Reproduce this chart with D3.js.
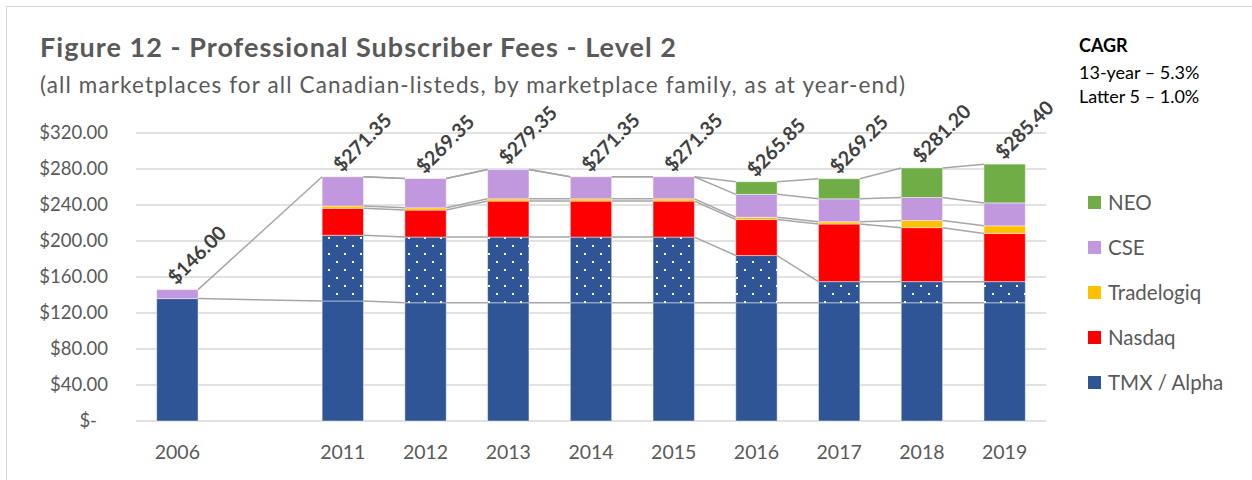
<!DOCTYPE html>
<html>
<head>
<meta charset="utf-8">
<script src="https://cdn.jsdelivr.net/npm/d3@7"></script>
<style>
  body { margin: 0; background: #fff; }
  svg { display: block; font-family: Lato, "Open Sans", sans-serif; }
</style>
</head>
<body>
<script>
const WIDTH = 1252;
const HEIGHT = 480;
const MARGIN = { left: 136, right: 206, top: 133, bottom: 59 };

// categories ("" is the empty slot between 2006 and 2011)
const years = ["2006", "", "2011", "2012", "2013", "2014", "2015", "2016", "2017", "2018", "2019"];

// series values per year (null = not present that year)
const tmx        = [136,   null, 133.35, 131.35, 131.35, 131.35, 131.35, 131.35, 131.35, 131.35, 131.35];
const alpha      = [null,  null, 73,     73,     73,     73,     73,     52.5,   23.5,   23.5,   23.5];
const nasdaq     = [null,  null, 30,     30,     40,     40,     40,     40,     64,     60,     53.5];
const tradelogiq = [null,  null, 2.5,    2.5,    2.5,    2.5,    2.5,    2.5,    2.5,    8,      8.5];
const cse        = [10,    null, 32.5,   32.5,   32.5,   24.5,   24.5,   25.5,   25.5,   25.5,   25.5];
const neo        = [null,  null, 0,      0,      0,      0,      0,      14,     22.4,   32.85,  43.05];

const yTicks = [0, 40, 80, 120, 160, 200, 240, 280, 320];

const seriesKeys = ["tmx", "alpha", "nasdaq", "tradelogiq", "cse", "neo"];
const seriesValues = { tmx, alpha, nasdaq, tradelogiq, cse, neo };
const colors = {
  tmx: "#2F5597", alpha: "url(#dots)", nasdaq: "#FF0000",
  tradelogiq: "#FFC000", cse: "#C197DD", neo: "#70AD47"
};
const legendItems = [
  { name: "NEO", color: "#70AD47" },
  { name: "CSE", color: "#C197DD" },
  { name: "Tradelogiq", color: "#FFC000" },
  { name: "Nasdaq", color: "#FF0000" },
  { name: "TMX / Alpha", color: "#2F5597" }
];

const rows = years.map((yr, i) => {
  const r = { year: yr, i };
  seriesKeys.forEach(k => r[k] = seriesValues[k][i]);
  return r;
});

const x = d3.scaleBand()
  .domain(years)
  .range([MARGIN.left, WIDTH - MARGIN.right])
  .paddingInner(0.5)
  .paddingOuter(0.25);

const y = d3.scaleLinear([0, 320], [HEIGHT - MARGIN.bottom, MARGIN.top]);

const stack = d3.stack()
  .keys(seriesKeys)
  .value((d, k) => d[k] ?? 0);
const stacked = stack(rows);

const svg = d3.select("body").append("svg")
  .attr("width", WIDTH)
  .attr("height", HEIGHT);

const defs = svg.append("defs");
const pat = defs.append("pattern")
  .attr("id", "dots")
  .attr("patternUnits", "userSpaceOnUse")
  .attr("x", 8).attr("y", 13)
  .attr("width", 16).attr("height", 16);
pat.append("rect").attr("width", 16).attr("height", 16).attr("fill", "#2F5597");
pat.append("rect").attr("x", 0).attr("y", 0).attr("width", 2).attr("height", 2).attr("fill", "#fff");
pat.append("rect").attr("x", 8).attr("y", 8).attr("width", 2).attr("height", 2).attr("fill", "#fff");

// chart frame
svg.append("rect")
  .attr("x", 6.5).attr("y", 6.5)
  .attr("width", WIDTH + 10).attr("height", HEIGHT + 10)
  .attr("fill", "none")
  .attr("stroke", "#d9d9d9");

// title
svg.append("text")
  .attr("x", 40).attr("y", 57)
  .attr("fill", "#595959")
  .style("font-size", "27px")
  .style("font-weight", "bold")
  .attr("textLength", 636)
  .attr("lengthAdjust", "spacing")
  .text("Figure 12 - Professional Subscriber Fees - Level 2");

svg.append("text")
  .attr("x", 40).attr("y", 93)
  .attr("fill", "#595959")
  .style("font-size", "22.5px")
  .attr("textLength", 865)
  .attr("lengthAdjust", "spacing")
  .text("(all marketplaces for all Canadian-listeds, by marketplace family, as at year-end)");

// CAGR note
const note = svg.append("g").attr("transform", "translate(1079,0)").style("font-size", "18px").attr("fill", "#000");
note.append("text").attr("y", 52).style("font-weight", "bold").text("CAGR");
note.append("text").attr("y", 79).text("13-year – 5.3%");
note.append("text").attr("y", 103).text("Latter 5 – 1.0%");

// gridlines
svg.append("g")
  .selectAll("line")
  .data(yTicks)
  .join("line")
    .attr("x1", MARGIN.left).attr("x2", WIDTH - MARGIN.right)
    .attr("y1", d => y(d)).attr("y2", d => y(d))
    .attr("stroke", "#d9d9d9")
    .attr("stroke-width", 1.5);

// y axis labels
const fmtMoney = d3.format(",.2f");
svg.append("g")
  .attr("fill", "#595959")
  .style("font-size", "18.5px")
  .attr("text-anchor", "end")
  .selectAll("text")
  .data(yTicks)
  .join("text")
    .attr("x", d => d === 0 ? 97 : 108)
    .attr("y", d => y(d))
    .attr("dy", "0.35em")
    .text(d => d === 0 ? "$-" : "$" + fmtMoney(d));

// x axis labels
svg.append("g")
  .attr("fill", "#595959")
  .style("font-size", "19.5px")
  .attr("text-anchor", "middle")
  .selectAll("text")
  .data(years)
  .join("text")
    .attr("x", d => x(d) + x.bandwidth() / 2)
    .attr("y", 459)
    .text(d => d);

// bars
svg.append("g")
  .selectAll("g")
  .data(stacked)
  .join("g")
    .attr("fill", d => colors[d.key])
  .selectAll("rect")
  .data(d => d.filter(s => s.data[d.key] != null && s[1] > s[0]))
  .join("rect")
    .attr("x", d => x(d.data.year))
    .attr("y", d => y(d[1]))
    .attr("width", x.bandwidth())
    .attr("height", d => y(d[0]) - y(d[1]))
    .attr("stroke", "#fff")
    .attr("stroke-opacity", 0.45)
    .attr("stroke-width", 1);

// series lines between neighbouring bars
const shown = rows.filter(r => r.year !== "");
const seriesLines = [];
stacked.forEach(s => {
  for (let j = 1; j < shown.length; j++) {
    const a = shown[j - 1], b = shown[j];
    if (a[s.key] == null || b[s.key] == null) continue;
    seriesLines.push({
      x1: x(a.year) + x.bandwidth(), y1: y(s[a.i][1]),
      x2: x(b.year), y2: y(s[b.i][1])
    });
  }
});
svg.append("g")
  .attr("stroke", "#a6a6a6")
  .attr("stroke-width", 1.5)
  .selectAll("line")
  .data(seriesLines)
  .join("line")
    .attr("x1", d => d.x1).attr("y1", d => d.y1)
    .attr("x2", d => d.x2).attr("y2", d => d.y2);

// total labels
const topSeries = stacked[stacked.length - 1];
svg.append("g")
  .attr("fill", "#404040")
  .style("font-size", "19.5px")
  .style("font-weight", "bold")
  .selectAll("text")
  .data(shown)
  .join("text")
    .attr("transform", d => `translate(${x(d.year) + x.bandwidth() / 2 - 1},${y(topSeries[d.i][1]) - 4}) rotate(-45)`)
    .text(d => "$" + fmtMoney(topSeries[d.i][1]));

// legend
const legend = svg.append("g")
  .attr("transform", "translate(1088,0)")
  .selectAll("g")
  .data(legendItems)
  .join("g")
    .attr("transform", (d, i) => `translate(0,${203 + i * 45})`);
legend.append("rect")
  .attr("y", -7).attr("width", 13).attr("height", 13)
  .attr("fill", d => d.color);
legend.append("text")
  .attr("x", 20).attr("dy", "0.35em")
  .attr("fill", "#595959")
  .style("font-size", "20.5px")
  .text(d => d.name);
</script>
</body>
</html>
